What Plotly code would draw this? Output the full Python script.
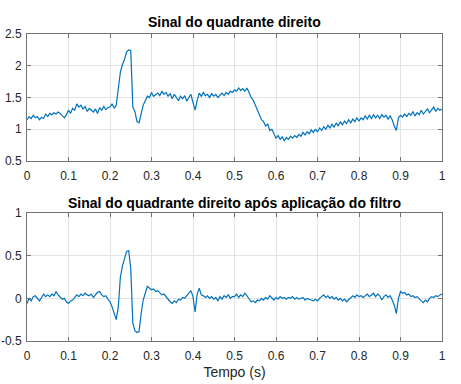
import plotly.graph_objects as go
from plotly.subplots import make_subplots

# time axis (s)
t = [round(i * 0.005, 3) for i in range(201)]

# raw signal
sinal = [
    1.15, 1.20, 1.17, 1.22, 1.18, 1.20, 1.15, 1.19, 1.17, 1.24,
    1.20, 1.25, 1.23, 1.26, 1.24, 1.27, 1.25, 1.22, 1.18, 1.23,
    1.30, 1.25, 1.33, 1.30, 1.40, 1.35, 1.38, 1.32, 1.36, 1.28,
    1.33, 1.30, 1.27, 1.32, 1.25, 1.34, 1.30, 1.36, 1.31, 1.34,
    1.35, 1.40, 1.33, 1.38, 1.62, 1.90, 2.02, 2.10, 2.22, 2.25,
    2.24, 1.35, 1.28, 1.12, 1.10, 1.22, 1.38, 1.45, 1.52, 1.50,
    1.58, 1.52, 1.55, 1.57, 1.53, 1.60, 1.55, 1.58, 1.52, 1.56,
    1.48, 1.55, 1.50, 1.45, 1.52, 1.48, 1.53, 1.44, 1.50, 1.55,
    1.42, 1.30, 1.45, 1.57, 1.52, 1.58, 1.53, 1.55, 1.50, 1.56,
    1.52, 1.55, 1.50, 1.54, 1.57, 1.53, 1.58, 1.55, 1.60, 1.58,
    1.62, 1.60, 1.65, 1.61, 1.64, 1.60, 1.65, 1.58, 1.50, 1.46,
    1.38, 1.28, 1.22, 1.15, 1.12, 1.05, 1.08, 0.98, 1.00, 0.94,
    0.86, 0.90, 0.84, 0.88, 0.82, 0.87, 0.84, 0.89, 0.86, 0.90,
    0.87, 0.92, 0.89, 0.95, 0.91, 0.96, 0.93, 0.99, 0.95, 1.00,
    0.96, 1.02, 0.98, 1.04, 1.00, 1.06, 1.02, 1.08, 1.03, 1.10,
    1.05, 1.12, 1.07, 1.13, 1.09, 1.15, 1.10, 1.16, 1.12, 1.18,
    1.13, 1.18, 1.15, 1.21, 1.16, 1.22, 1.17, 1.23, 1.18, 1.22,
    1.17, 1.23, 1.19, 1.22, 1.16, 1.21, 1.15, 1.05, 0.98, 1.18,
    1.22, 1.19, 1.24, 1.20, 1.25, 1.22, 1.28, 1.21, 1.26, 1.23,
    1.30, 1.24, 1.28, 1.32, 1.26, 1.30, 1.35, 1.28, 1.33, 1.30,
    1.32,
]

# filtered signal
filtrado = [
    -0.06, 0.00, -0.03, 0.02, 0.03, 0.00, -0.03, 0.01, 0.05, 0.02,
    0.04, 0.02, 0.05, 0.03, 0.08, 0.04, 0.02, -0.01, 0.00, -0.04,
    -0.06, -0.03, -0.02, 0.01, 0.04, 0.02, 0.05, 0.03, 0.06, 0.04,
    0.03, 0.05, 0.01, 0.04, 0.07, 0.08, 0.04, 0.02, 0.03, -0.01,
    -0.04, -0.10, -0.18, -0.25, -0.10, 0.25, 0.38, 0.48, 0.55, 0.56,
    0.35, -0.29, -0.38, -0.40, -0.39, -0.18, -0.02, 0.06, 0.14, 0.12,
    0.10, 0.11, 0.08, 0.09, 0.06, 0.04, 0.05, 0.02, -0.02, -0.04,
    -0.06, -0.03, -0.05, -0.01, -0.02, 0.01, 0.00, 0.03, 0.07, 0.09,
    0.02, -0.16, 0.05, 0.12, 0.04, 0.03, 0.01, 0.03, 0.00, 0.02,
    -0.01, 0.01, -0.03, 0.02, -0.01, 0.03, 0.01, 0.04, 0.00, 0.02,
    0.02, 0.05, 0.01, 0.04, 0.02, 0.06, 0.03, -0.01, -0.04, -0.03,
    -0.05, -0.02, -0.03, 0.00, -0.02, 0.01, -0.01, 0.03, 0.00, -0.02,
    0.01, -0.01, 0.02, 0.00, 0.01, -0.01, 0.01, 0.00, 0.02, -0.01,
    0.01, -0.01, 0.00, 0.01, -0.02, 0.00, -0.01, -0.02, -0.03, -0.01,
    -0.03, 0.00, 0.02, 0.04, 0.01, 0.03, 0.00, 0.02, -0.01, 0.01,
    -0.02, 0.00, -0.03, -0.01, -0.04, -0.02, 0.01, 0.03, 0.01, 0.04,
    0.02, 0.03, 0.01, 0.03, 0.05, 0.02, 0.04, 0.06, 0.02, 0.05,
    0.03, -0.02, 0.02, 0.04, 0.01, 0.03, -0.02, -0.08, -0.18, 0.00,
    0.08, 0.06, 0.07, 0.04, 0.05, 0.02, 0.03, 0.01, 0.02, -0.01,
    -0.03, -0.05, -0.02, -0.04, 0.00, 0.02, 0.01, 0.03, 0.02, 0.04,
    0.05,
]

x_ticks = [0, 0.1, 0.2, 0.3, 0.4, 0.5, 0.6, 0.7, 0.8, 0.9, 1]
x_labels = ["0", "0.1", "0.2", "0.3", "0.4", "0.5", "0.6", "0.7", "0.8", "0.9", "1"]
y1_ticks = [0.5, 1, 1.5, 2, 2.5]
y1_labels = ["0.5", "1", "1.5", "2", "2.5"]
y2_ticks = [-0.5, 0, 0.5, 1]
y2_labels = ["-0.5", "0", "0.5", "1"]

titulo1 = "Sinal do quadrante direito"
titulo2 = "Sinal do quadrante direito após aplicação do filtro"
xlabel = "Tempo (s)"

LINE = "#0072BD"
AX = "#737373"
TXT = "#262626"
GRID = "#e3e3e3"
FONT = "Liberation Sans, Arial, sans-serif"

fig = make_subplots(rows=2, cols=1, vertical_spacing=0.0)
fig.add_trace(go.Scatter(x=t, y=sinal, mode="lines",
                         line=dict(color=LINE, width=1.2), showlegend=False), row=1, col=1)
fig.add_trace(go.Scatter(x=t, y=filtrado, mode="lines",
                         line=dict(color=LINE, width=1.2), showlegend=False), row=2, col=1)

common_x = dict(range=[0, 1], tickvals=x_ticks, ticktext=x_labels, showgrid=True,
                gridcolor=GRID, gridwidth=1, zeroline=False, showline=True,
                linecolor=AX, linewidth=1, mirror="allticks", ticks="inside",
                ticklen=4, tickcolor=AX, tickfont=dict(size=12, color=TXT, family=FONT),
                ticklabelstandoff=4, automargin=False)
common_y = dict(showgrid=True, gridcolor=GRID, gridwidth=1, zeroline=False,
                showline=True, linecolor=AX, linewidth=1, mirror="allticks",
                ticks="inside", ticklen=4, tickcolor=AX,
                tickfont=dict(size=12, color=TXT, family=FONT), ticklabelstandoff=2,
                automargin=False)

fig.update_layout(
    width=461, height=384,
    margin=dict(l=27, r=19, t=34, b=43),
    paper_bgcolor="white", plot_bgcolor="white",
    font=dict(family=FONT, color=TXT),
    xaxis=dict(domain=[0, 1], anchor="y", **common_x),
    xaxis2=dict(domain=[0, 1], anchor="y2", **common_x,
                title=dict(text=xlabel, font=dict(size=14, color=TXT, family=FONT), standoff=4)),
    yaxis=dict(domain=[0.5863, 1], range=[0.5, 2.5], tickvals=y1_ticks,
               ticktext=y1_labels, anchor="x", **common_y),
    yaxis2=dict(domain=[0, 0.417], range=[-0.5, 1], tickvals=y2_ticks,
                ticktext=y2_labels, anchor="x2", **common_y),
    annotations=[
        dict(text="<b>" + titulo1 + "</b>", x=0.5, xref="paper", y=1, yref="paper",
             yanchor="bottom", yshift=2, showarrow=False,
             font=dict(size=14, color="black", family=FONT)),
        dict(text="<b>" + titulo2 + "</b>", x=0.5, xref="paper", y=0.417, yref="paper",
             yanchor="bottom", yshift=0, showarrow=False,
             font=dict(size=14, color="black", family=FONT)),
    ],
)

fig.write_html("out.html", config={"displayModeBar": False},
               post_script="document.body.style.margin='0';")
